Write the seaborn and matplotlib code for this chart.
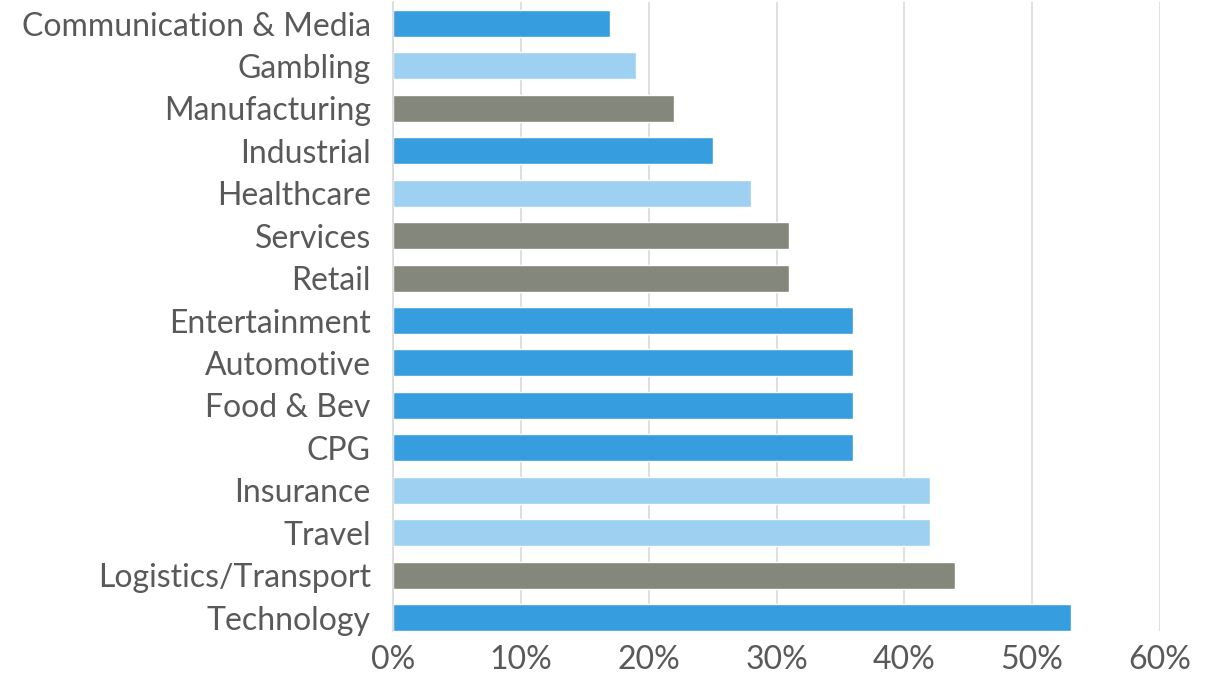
import matplotlib
matplotlib.use("Agg")
import matplotlib.pyplot as plt
from matplotlib.ticker import PercentFormatter
import seaborn as sns
import pandas as pd

categories = [
    "Communication & Media", "Gambling", "Manufacturing", "Industrial",
    "Healthcare", "Services", "Retail", "Entertainment", "Automotive",
    "Food & Bev", "CPG", "Insurance", "Travel", "Logistics/Transport",
    "Technology",
]
values = [17, 19, 22, 25, 28, 31, 31, 36, 36, 36, 36, 42, 42, 44, 53]
groups = ["blue", "light", "gray", "blue", "light", "gray", "gray", "blue",
          "blue", "blue", "blue", "light", "light", "gray", "blue"]
group_colors = {"blue": "#369EDF", "light": "#9DD0F1", "gray": "#83877C"}
x_ticks = [0, 10, 20, 30, 40, 50, 60]

df = pd.DataFrame({"category": categories, "value": values, "group": groups})

sns.set_theme(style="white")
plt.rcParams["font.family"] = ["Lato", "DejaVu Sans"]

fig = plt.figure(figsize=(12.18, 6.77), dpi=100)
ax = fig.add_axes([393 / 1218, 1 - 631 / 677, (1160 - 393) / 1218, (631 - 2.3) / 677])

palette = [group_colors[g] for g in groups]
sns.barplot(data=df, y="category", x="value", hue="category", palette=palette,
            legend=False, orient="h", width=0.636, ax=ax, saturation=1)

ax.set_xlim(0, 60)
ax.set_ylim(14 + 0.318, -0.5)
ax.set_xticks(x_ticks)
ax.xaxis.set_major_formatter(PercentFormatter(decimals=0))
ax.set_xlabel("")
ax.set_ylabel("")
ax.grid(axis="x", color="#D9D9D9", linewidth=1.2)
ax.set_axisbelow(True)
for side in ["top", "right", "bottom"]:
    ax.spines[side].set_visible(False)
ax.spines["left"].set_color("#D9D9D9")
ax.spines["left"].set_linewidth(1.2)
ax.tick_params(axis="both", length=0, labelsize=23, labelcolor="#595959")
ax.tick_params(axis="y", pad=16)
ax.tick_params(axis="x", pad=10)

fig.savefig("out.png", dpi=100)
